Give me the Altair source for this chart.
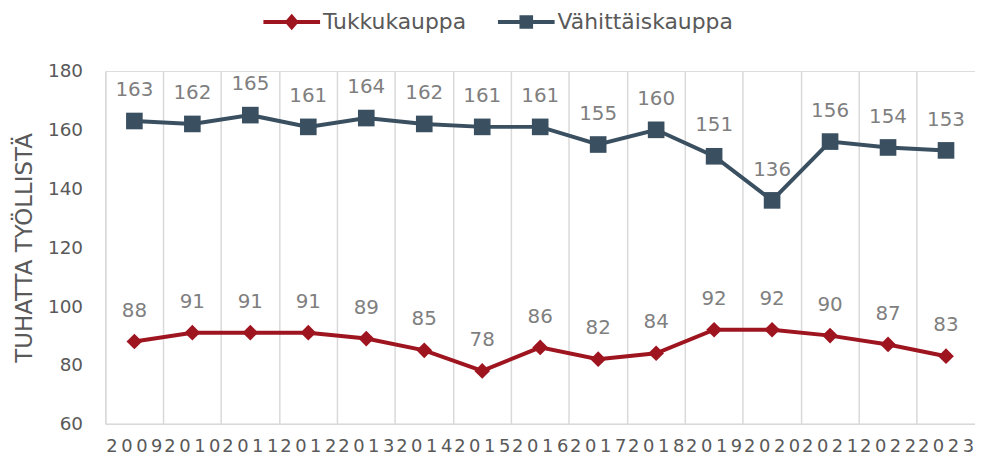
import altair as alt
import pandas as pd

years = [str(y) for y in range(2009, 2024)]
tukku = [88, 91, 91, 91, 89, 85, 78, 86, 82, 84, 92, 92, 90, 87, 83]
vahit = [163, 162, 165, 161, 164, 162, 161, 161, 155, 160, 151, 136, 156, 154, 153]
series_names = ["Tukkukauppa", "Vähittäiskauppa"]
colors = ["#9E1520", "#3A5061"]

rows = []
for name, vals in zip(series_names, [tukku, vahit]):
    for y, v in zip(years, vals):
        rows.append({"year": y, "series": name, "value": v})
df = pd.DataFrame(rows)

FONT = "DejaVu Sans"
GRAY = "#595959"

x_enc = alt.X(
    "year:O",
    title=None,
    sort=years,
    scale=alt.Scale(type="band", paddingInner=0, paddingOuter=0),
    axis=alt.Axis(
        labelAngle=0,
        labelFontSize=18,
        labelColor=GRAY,
        labelFont=FONT,
        labelPadding=14,
        labelExpr="join(split(datum.label, ''), '\u2009')",
        ticks=False,
        grid=True,
        gridColor="#d9d9d9",
        gridWidth=1.5,
        bandPosition=0,
        domainColor="#d9d9d9",
        domainWidth=1.5,
    ),
)
y_enc = alt.Y(
    "value:Q",
    scale=alt.Scale(domain=[60, 180], nice=False, zero=False),
    axis=alt.Axis(
        title="TUHATTA TYÖLLISTÄ",
        titleFontSize=23,
        titleFontWeight="normal",
        titleColor=GRAY,
        titleFont=FONT,
        titlePadding=11,
        values=[60, 80, 100, 120, 140, 160, 180],
        labelFontSize=18.5,
        labelColor=GRAY,
        labelFont=FONT,
        labelPadding=23,
        ticks=False,
        domain=False,
        grid=False,
    ),
)

color_scale = alt.Scale(domain=series_names, range=colors)
legend_paths = [
    "M-1,-0.07L1,-0.07L1,0.07L-1,0.07ZM0,-0.29L0.25,0L0,0.29L-0.25,0Z",
    "M-1,-0.07L1,-0.07L1,0.07L-1,0.07ZM-0.24,-0.24L0.24,-0.24L0.24,0.24L-0.24,0.24Z",
]
leg = alt.Legend(
    title=None,
    orient="none",
    direction="horizontal",
    legendX=159,
    legendY=-78,
    padding=0,
    symbolSize=3249,
    symbolStrokeWidth=0,
    symbolOpacity=1,
    labelFontSize=22,
    labelColor=GRAY,
    labelFont=FONT,
    labelOffset=3,
    labelLimit=400,
    columnPadding=32,
)

base = alt.Chart(df)

lines = base.mark_line(strokeWidth=4).encode(
    x=x_enc,
    y=y_enc,
    color=alt.Color("series:N", scale=color_scale, legend=leg),
)

pts_t = base.transform_filter(alt.datum.series == "Tukkukauppa").mark_point(
    filled=True, shape="diamond", size=250, opacity=1, color=colors[0]
).encode(x=x_enc, y=y_enc)

pts_v = base.transform_filter(alt.datum.series == "Vähittäiskauppa").mark_point(
    filled=True, shape="square", size=280, opacity=1, color=colors[1]
).encode(x=x_enc, y=y_enc)

labels = base.mark_text(
    fontSize=20, color="#7f7f7f", font=FONT, baseline="alphabetic", dy=-25
).encode(x=x_enc, y=y_enc, text="value:Q")

legend_layer = base.transform_filter("false").mark_point(filled=True).encode(
    x=x_enc,
    y=y_enc,
    color=alt.Color("series:N", scale=color_scale, legend=leg),
    shape=alt.Shape("series:N", scale=alt.Scale(domain=series_names, range=legend_paths), legend=leg),
)

chart = alt.layer(lines, pts_t, pts_v, labels, legend_layer).properties(
    width=875,
    height=355,
    autosize=alt.AutoSizeParams(type="none"),
    padding={"left": 98, "top": 62, "right": 0, "bottom": 36},
).configure_view(stroke=None).configure(font=FONT)

chart.save("out.html", embed_options={"renderer": "svg", "actions": False})
